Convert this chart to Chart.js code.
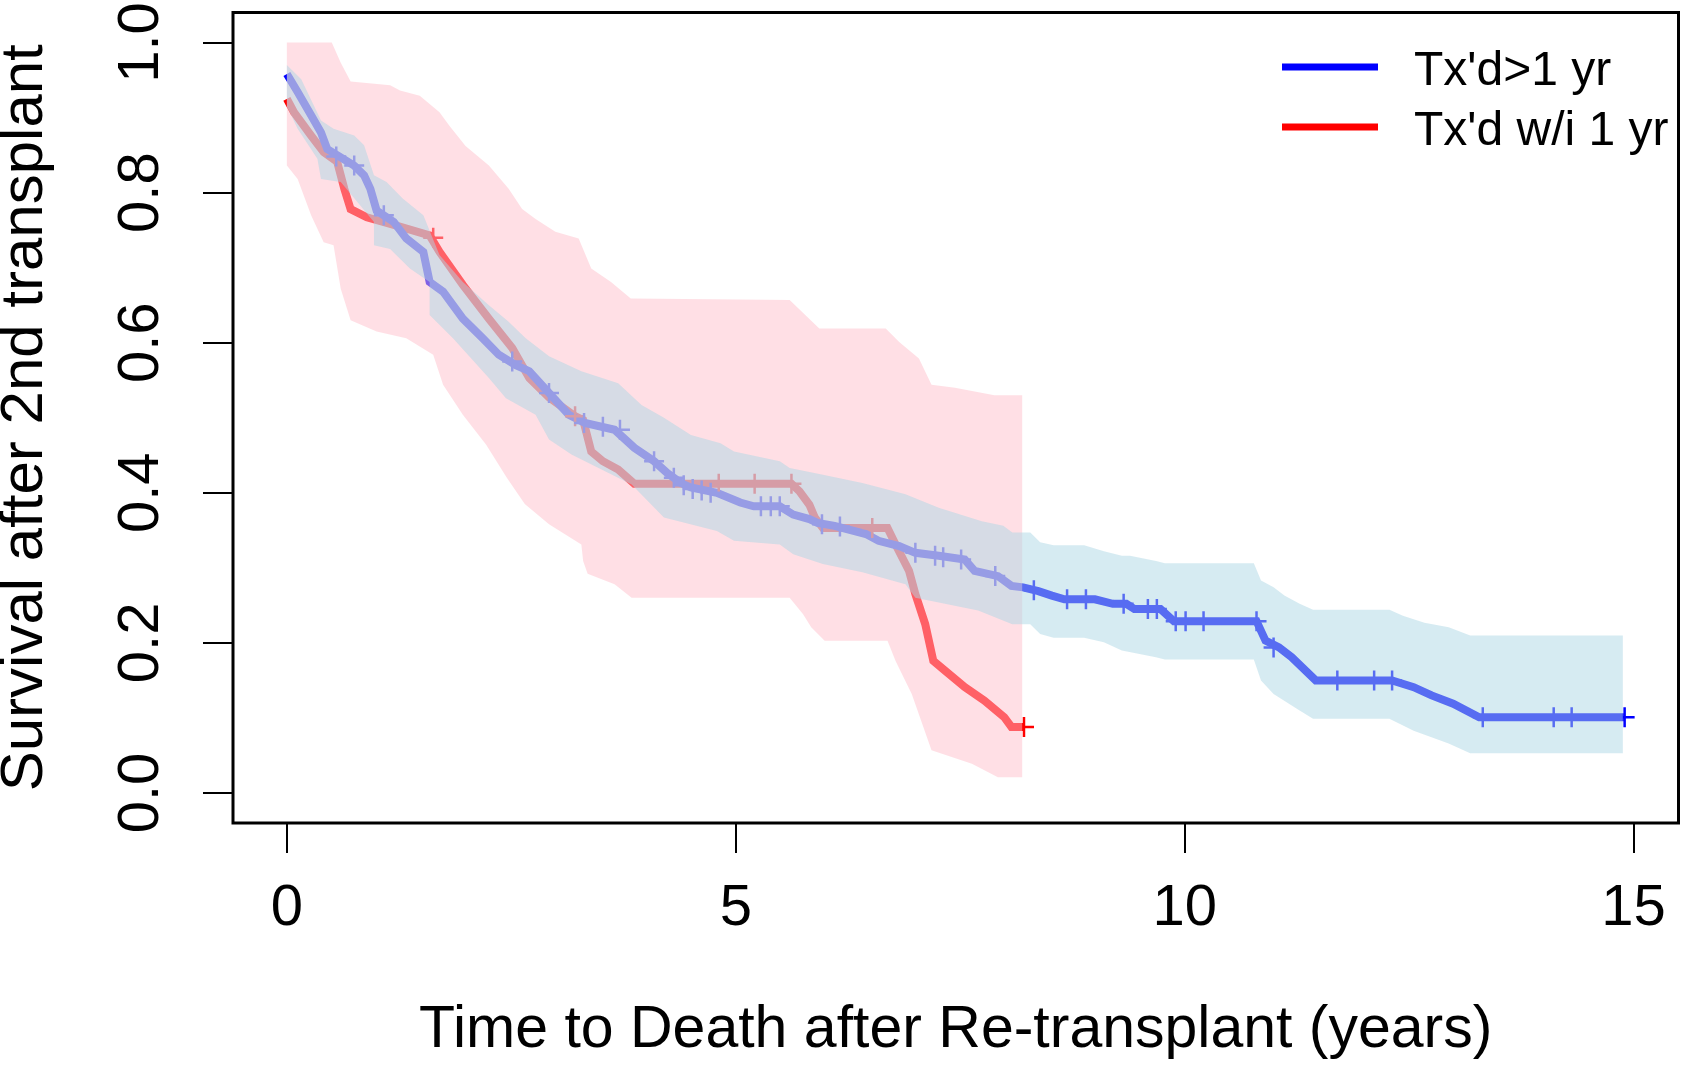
<!DOCTYPE html>
<html>
<head>
<meta charset="utf-8">
<script src="https://cdn.jsdelivr.net/npm/chart.js@4.4.1/dist/chart.umd.min.js"></script>
<style>
  html, body { margin: 0; padding: 0; background: #fff; }
  #wrap { width: 1691px; height: 1066px; }
</style>
</head>
<body>
<div id="wrap"><canvas id="km-chart" width="1691" height="1066"></canvas></div>
<script>
// Tick labels
var xTicks = [0, 5, 10, 15];
var yTicks = [0, 0.2, 0.4, 0.6, 0.8, 1.0];

// Kaplan-Meier curves [years, survival]
var blueCurve = [[0,0.958],[0.12,0.934],[0.27,0.903],[0.38,0.880],[0.45,0.858],[0.60,0.847],[0.75,0.836],[0.86,0.823],[0.93,0.805],[1.0,0.776],[1.19,0.761],[1.33,0.739],[1.52,0.721],[1.59,0.681],[1.74,0.668],[1.96,0.632],[2.18,0.606],[2.36,0.584],[2.55,0.570],[2.70,0.562],[2.92,0.533],[3.14,0.504],[3.32,0.493],[3.65,0.484],[3.87,0.460],[4.09,0.442],[4.24,0.426],[4.39,0.413],[4.50,0.407],[4.79,0.400],[5.05,0.387],[5.20,0.382],[5.49,0.382],[5.64,0.371],[5.82,0.365],[5.91,0.360],[6.10,0.356],[6.45,0.345],[6.59,0.336],[6.82,0.329],[7.00,0.320],[7.26,0.316],[7.55,0.311],[7.66,0.296],[7.92,0.289],[8.07,0.276],[8.20,0.274],[8.37,0.269],[8.52,0.263],[8.66,0.258],[9.0,0.258],[9.2,0.252],[9.35,0.252],[9.44,0.245],[9.73,0.245],[9.88,0.229],[10.80,0.229],[10.9,0.203],[11.05,0.194],[11.19,0.181],[11.46,0.150],[12.31,0.150],[12.55,0.141],[12.75,0.130],[12.99,0.119],[13.28,0.101],[14.89,0.101]];
var redCurve = [[0,0.925],[0.08,0.907],[0.27,0.876],[0.41,0.854],[0.56,0.841],[0.64,0.805],[0.71,0.778],[0.89,0.767],[1.22,0.756],[1.59,0.743],[1.70,0.721],[1.96,0.677],[2.25,0.632],[2.51,0.593],[2.70,0.553],[2.92,0.527],[3.21,0.502],[3.30,0.497],[3.39,0.455],[3.52,0.442],[3.69,0.431],[3.87,0.412],[5.62,0.412],[5.71,0.402],[5.82,0.384],[5.88,0.367],[5.97,0.353],[6.69,0.353],[6.78,0.331],[6.93,0.296],[7.00,0.265],[7.11,0.225],[7.20,0.176],[7.33,0.163],[7.55,0.141],[7.77,0.123],[7.99,0.101],[8.07,0.088],[8.21,0.088]];

// censored observations
var blueCensor = [[0.55,0.848],[0.75,0.836],[1.08,0.77],[2.51,0.575],[2.92,0.533],[3.31,0.493],[3.52,0.488],[3.71,0.484],[4.09,0.442],[4.31,0.42],[4.42,0.41],[4.52,0.405],[4.62,0.403],[4.72,0.40],[5.28,0.382],[5.39,0.382],[5.49,0.382],[5.96,0.358],[6.16,0.355],[7.00,0.320],[7.22,0.316],[7.31,0.314],[7.51,0.311],[7.89,0.289],[8.32,0.27],[8.69,0.258],[8.90,0.258],[9.32,0.252],[9.59,0.245],[9.69,0.245],[9.90,0.229],[10.01,0.229],[10.21,0.229],[10.80,0.229],[10.99,0.194],[11.70,0.150],[12.11,0.150],[12.31,0.150],[13.32,0.101],[14.11,0.101],[14.31,0.101],[14.90,0.101]];
var redCensor = [[1.63,0.74],[3.21,0.502],[4.81,0.412],[5.21,0.412],[5.62,0.412],[6.52,0.353],[8.21,0.088]];

// 95% confidence limits
var blueUpper = [[0,0.97],[0.16,0.951],[0.38,0.896],[0.52,0.885],[0.75,0.876],[0.86,0.863],[0.97,0.823],[1.11,0.814],[1.29,0.792],[1.52,0.770],[1.70,0.717],[1.96,0.681],[2.25,0.650],[2.47,0.628],[2.66,0.606],[2.92,0.582],[3.28,0.562],[3.69,0.546],[3.95,0.517],[4.20,0.500],[4.50,0.477],[4.83,0.466],[4.98,0.455],[5.49,0.442],[5.60,0.433],[5.97,0.424],[6.41,0.413],[6.89,0.398],[7.26,0.380],[7.74,0.362],[7.98,0.356],[8.08,0.347],[8.28,0.347],[8.39,0.334],[8.54,0.330],[8.88,0.330],[9.10,0.322],[9.30,0.316],[9.39,0.316],[9.68,0.309],[9.78,0.306],[10.77,0.306],[10.85,0.283],[10.99,0.274],[11.11,0.263],[11.28,0.252],[11.43,0.244],[12.28,0.244],[12.43,0.236],[12.67,0.227],[12.94,0.221],[13.18,0.210],[14.88,0.210]];
var blueLower = [[0,0.915],[0.12,0.885],[0.34,0.845],[0.38,0.818],[0.60,0.814],[0.97,0.761],[0.97,0.730],[1.15,0.725],[1.37,0.699],[1.59,0.681],[1.59,0.637],[1.85,0.606],[2.25,0.553],[2.44,0.526],[2.77,0.504],[2.92,0.471],[3.17,0.451],[3.84,0.411],[4.20,0.367],[4.79,0.349],[4.98,0.336],[5.49,0.331],[5.64,0.318],[5.97,0.305],[6.41,0.294],[6.89,0.278],[7.0,0.260],[7.70,0.243],[8.08,0.225],[8.28,0.225],[8.39,0.212],[8.54,0.207],[8.88,0.207],[9.10,0.201],[9.30,0.190],[9.68,0.181],[9.78,0.178],[10.77,0.178],[10.85,0.150],[10.99,0.132],[11.28,0.110],[11.43,0.099],[12.28,0.099],[12.55,0.083],[12.94,0.066],[13.18,0.053],[14.88,0.053]];
var redUpper = [[0,1.0],[0.50,1.0],[0.60,0.973],[0.71,0.948],[1.15,0.943],[1.26,0.936],[1.48,0.929],[1.70,0.907],[1.81,0.889],[1.99,0.862],[2.25,0.836],[2.47,0.805],[2.62,0.778],[2.77,0.765],[2.99,0.748],[3.25,0.739],[3.39,0.699],[3.61,0.681],[3.83,0.659],[5.60,0.657],[5.93,0.619],[6.67,0.619],[6.82,0.601],[7.04,0.579],[7.18,0.544],[7.44,0.540],[7.66,0.535],[7.88,0.530],[8.19,0.530]];
var redLower = [[0,0.836],[0.12,0.818],[0.27,0.770],[0.41,0.734],[0.52,0.730],[0.60,0.672],[0.71,0.630],[1.0,0.615],[1.33,0.606],[1.63,0.584],[1.74,0.544],[1.96,0.504],[2.22,0.464],[2.45,0.42],[2.65,0.385],[2.92,0.358],[3.28,0.331],[3.30,0.309],[3.35,0.292],[3.65,0.278],[3.84,0.260],[5.60,0.260],[5.75,0.238],[5.84,0.221],[5.99,0.203],[6.69,0.203],[6.78,0.176],[6.96,0.132],[7.18,0.057],[7.63,0.039],[7.92,0.021],[8.19,0.021]];

var FONT = '"Liberation Sans", Arial, Helvetica, sans-serif';

function pts(list) {
  return list.map(function (p) { return { x: p[0], y: p[1] }; });
}
// closed polygon: upper limit left->right, lower limit right->left
function band(upper, lower) {
  return pts(upper.concat(lower.slice().reverse()));
}

// R style box + legend without frame
var boxAndLegend = {
  id: "boxAndLegend",
  afterDraw: function (chart) {
    var ctx = chart.ctx;
    var a = chart.chartArea;
    ctx.save();
    ctx.strokeStyle = "#000";
    ctx.lineWidth = 3;
    ctx.strokeRect(a.left, a.top, a.right - a.left, a.bottom - a.top);

    var items = [chart.data.datasets[0], chart.data.datasets[1]];
    ctx.font = "48px " + FONT;
    ctx.textBaseline = "middle";
    ctx.textAlign = "left";
    items.forEach(function (ds, i) {
      var y = 67 + i * 60;
      ctx.strokeStyle = ds.borderColor;
      ctx.lineWidth = 7;
      ctx.beginPath();
      ctx.moveTo(1282, y);
      ctx.lineTo(1378, y);
      ctx.stroke();
      ctx.fillStyle = "#000";
      ctx.fillText(ds.label, 1414, y + 5);
    });
    ctx.restore();
  },
};

// no extra room for the end labels, as in base R graphics
function noLabelPadding(scale) {
  scale.paddingTop = 0;
  scale.paddingBottom = 0;
  scale.paddingLeft = 0;
  scale.paddingRight = 0;
}

var ctx = document.getElementById("km-chart").getContext("2d");

new Chart(ctx, {
  type: "line",
  data: {
    datasets: [
      {
        label: "Tx'd>1 yr",
        data: pts(blueCurve),
        borderColor: "#0000ff",
        borderWidth: 8,
        pointRadius: 0,
        fill: false,
        order: 5,
      },
      {
        label: "Tx'd w/i 1 yr",
        data: pts(redCurve),
        borderColor: "#ff0000",
        borderWidth: 8,
        pointRadius: 0,
        fill: false,
        order: 5,
      },
      {
        label: "censored >1 yr",
        data: pts(blueCensor),
        showLine: false,
        pointStyle: "cross",
        pointRadius: 10,
        pointBorderWidth: 2.5,
        pointBorderColor: "#0000ff",
        order: 4,
      },
      {
        label: "censored w/i 1 yr",
        data: pts(redCensor),
        showLine: false,
        pointStyle: "cross",
        pointRadius: 10,
        pointBorderWidth: 2.5,
        pointBorderColor: "#ff0000",
        order: 4,
      },
      {
        label: "CI w/i 1 yr",
        data: band(redUpper, redLower),
        borderWidth: 0,
        borderColor: "rgba(0,0,0,0)",
        pointRadius: 0,
        fill: "shape",
        backgroundColor: "rgba(255, 192, 203, 0.5)",
        order: 2,
      },
      {
        label: "CI >1 yr",
        data: band(blueUpper, blueLower),
        borderWidth: 0,
        borderColor: "rgba(0,0,0,0)",
        pointRadius: 0,
        fill: "shape",
        backgroundColor: "rgba(173, 216, 230, 0.5)",
        order: 1,
      },
    ],
  },
  options: {
    responsive: false,
    animation: false,
    devicePixelRatio: 1,
    layout: { padding: { top: 9, right: 3, left: 0, bottom: 0 } },
    plugins: {
      legend: { display: false },
      tooltip: { enabled: false },
    },
    scales: {
      x: {
        type: "linear",
        min: -0.6,
        max: 15.5,
        afterBuildTicks: function (scale) {
          scale.ticks = xTicks.map(function (v) { return { value: v }; });
        },
        afterFit: function (scale) {
          scale.height = 243;
          noLabelPadding(scale);
        },
        border: { display: false },
        grid: {
          display: true,
          drawOnChartArea: false,
          drawTicks: true,
          tickLength: 30,
          color: "#000",
          lineWidth: 2,
        },
        ticks: {
          autoSkip: false,
          maxRotation: 0,
          color: "#000",
          padding: 21,
          font: { family: FONT, size: 58 },
          callback: function (v) { return String(v); },
        },
        title: {
          display: true,
          text: "Time to Death after Re-transplant (years)",
          color: "#000",
          padding: 0,
          font: { family: FONT, size: 59 },
        },
      },
      y: {
        type: "linear",
        min: -0.04,
        max: 1.04,
        afterBuildTicks: function (scale) {
          scale.ticks = yTicks.map(function (v) { return { value: v }; });
        },
        afterFit: function (scale) {
          scale.width = 233;
          noLabelPadding(scale);
        },
        border: { display: false },
        grid: {
          display: true,
          drawOnChartArea: false,
          drawTicks: true,
          tickLength: 30,
          color: "#000",
          lineWidth: 2,
        },
        ticks: {
          autoSkip: false,
          minRotation: 90,
          maxRotation: 90,
          crossAlign: "center",
          color: "#000",
          padding: 21,
          font: { family: FONT, size: 58 },
          callback: function (v) { return v.toFixed(1); },
        },
        title: {
          display: true,
          text: "Survival after 2nd transplant",
          color: "#000",
          padding: 0,
          font: { family: FONT, size: 60, lineHeight: 0.84 },
        },
      },
    },
  },
  plugins: [boxAndLegend],
});
</script>
</body>
</html>
